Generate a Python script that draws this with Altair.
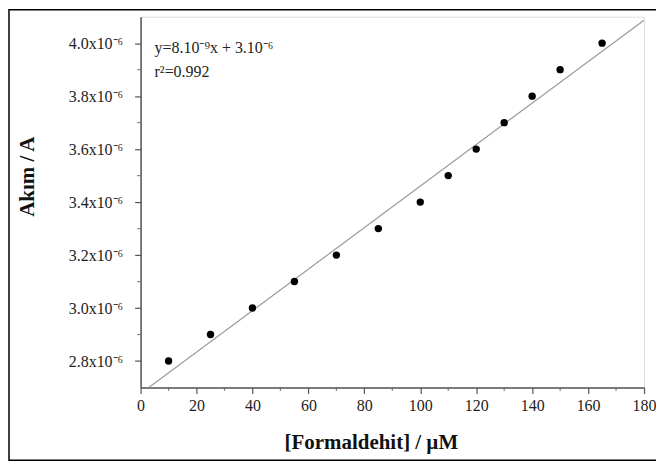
import altair as alt
import pandas as pd

# data
conc = [10, 25, 40, 55, 70, 85, 100, 110, 120, 130, 140, 150, 165]
current = [2.8e-6, 2.9e-6, 3.0e-6, 3.1e-6, 3.2e-6, 3.3e-6, 3.4e-6,
           3.5e-6, 3.6e-6, 3.7e-6, 3.8e-6, 3.9e-6, 4.0e-6]
x_major = [0, 20, 40, 60, 80, 100, 120, 140, 160, 180]
x_minor = [10, 30, 50, 70, 90, 110, 130, 150, 170]
y_major = [2.8e-6, 3.0e-6, 3.2e-6, 3.4e-6, 3.6e-6, 3.8e-6, 4.0e-6]
y_minor = [2.9e-6, 3.1e-6, 3.3e-6, 3.5e-6, 3.7e-6, 3.9e-6]
eq_line1 = ["y=8.10\u207b\u2079x + 3.10\u207b\u2076"]
eq_line2 = ["r\u00b2=0.992"]

df = pd.DataFrame({"conc": conc, "current": current})

FONT = "Liberation Serif"
AX = "#555555"

xscale = alt.Scale(domain=[0, 180], nice=False, zero=False)
yscale = alt.Scale(domain=[2.7e-6, 4.1e-6], nice=False, zero=False)

xaxis = alt.Axis(
    values=x_major, format="d", tickSize=6,
    grid=False, domainColor=AX, domainWidth=1.5, tickColor=AX, tickWidth=1.2,
    labelFont=FONT, labelFontSize=16, labelColor="#222222", labelPadding=4,
    labelOverlap=False, labelFlush=False,
    title="[Formaldehit] / \u00b5M", titleFont=FONT, titleFontSize=21, titleFontWeight="bold",
    titleColor="#111111", titleX=231, titleY=61, titleAnchor="start", titleAlign="center",
    titleBaseline="alphabetic",
)
yaxis = alt.Axis(
    values=y_major, tickSize=6,
    labelExpr="format(datum.value * 1000000, '.1f') + 'x10\u207b\u2076'",
    grid=False, domainColor=AX, domainWidth=1.5, tickColor=AX, tickWidth=1.2,
    labelFont=FONT, labelFontSize=16, labelColor="#222222", labelPadding=12,
    labelOverlap=False, labelFlush=False,
    title="Ak\u0131m / A", titleFont=FONT, titleFontSize=21, titleFontWeight="bold",
    titleColor="#111111", titleX=-113, titleY=160, titleAngle=-90, titleAlign="center",
    titleBaseline="middle",
)

base = alt.Chart(df)

points = base.mark_circle(size=55, color="black", opacity=1).encode(
    x=alt.X("conc:Q", scale=xscale, axis=xaxis),
    y=alt.Y("current:Q", scale=yscale, axis=yaxis),
)

fit = base.transform_regression("conc", "current", extent=[0, 180]).mark_line(
    color="#9a9a9a", strokeWidth=1.2, clip=True
).encode(x=alt.X("conc:Q", scale=xscale, axis=xaxis), y=alt.Y("current:Q", scale=yscale, axis=yaxis))

xminor = alt.Chart(pd.DataFrame({"v": x_minor})).mark_tick(
    color=AX, size=3.5, thickness=1.2, orient="vertical"
).encode(x=alt.X("v:Q", scale=xscale, axis=xaxis), y=alt.value(373.75))

yminor = alt.Chart(pd.DataFrame({"v": y_minor})).mark_tick(
    color=AX, size=3.5, thickness=1.2, orient="horizontal"
).encode(y=alt.Y("v:Q", scale=yscale, axis=yaxis), x=alt.value(-1.75))

eq1 = alt.Chart(pd.DataFrame({"t": eq_line1})).mark_text(
    font=FONT, fontSize=16, color="#222222", align="left", baseline="alphabetic"
).encode(x=alt.value(14), y=alt.value(36), text="t:N")
eq2 = alt.Chart(pd.DataFrame({"t": eq_line2})).mark_text(
    font=FONT, fontSize=16, color="#222222", align="left", baseline="alphabetic"
).encode(x=alt.value(14), y=alt.value(61), text="t:N")

frame = alt.Chart(pd.DataFrame({"a": [0]})).mark_rect(
    fill=None, stroke="black", strokeWidth=1.5, clip=False
).encode(
    x=alt.value(-132), x2=alt.value(540), y=alt.value(-7), y2=alt.value(445)
)

chart = alt.layer(fit, points, xminor, yminor, eq1, eq2, frame).properties(
    width=505, height=372,
    autosize=alt.AutoSizeParams(type="none"),
    padding={"left": 133, "top": 8, "right": 12, "bottom": 74},
).configure_view(stroke="#b0b0b0", strokeWidth=3).configure(background="white")

chart.save("out.html", embed_options={"renderer": "svg", "actions": False})
